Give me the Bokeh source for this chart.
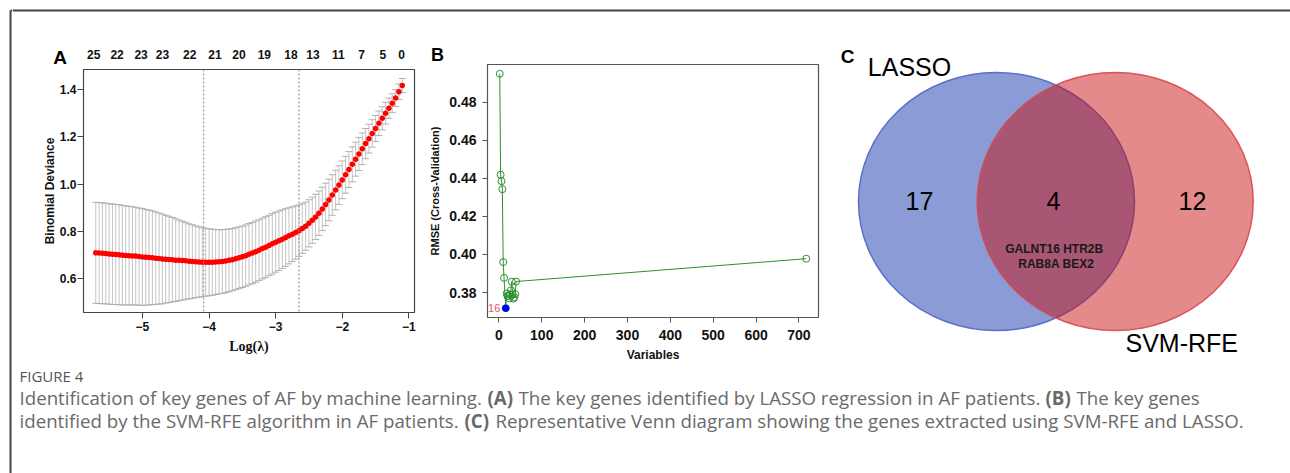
from bokeh.plotting import figure
from bokeh.layouts import row, column
from bokeh.models import Range1d, FixedTicker, Span, Label, NumeralTickFormatter
from bokeh.core.properties import value
from bokeh.embed import file_html
from bokeh.resources import INLINE

# ---------------- data ----------------
# Panel A: LASSO cross-validation
log_lambda = [-5.70, -5.65, -5.60, -5.55, -5.50, -5.45, -5.40, -5.35, -5.30, -5.25,
              -5.20, -5.15, -5.10, -5.05, -5.00, -4.95, -4.90, -4.85, -4.80, -4.75,
              -4.70, -4.65, -4.60, -4.55, -4.50, -4.45, -4.40, -4.35, -4.30, -4.25,
              -4.20, -4.15, -4.10, -4.05, -4.00, -3.95, -3.90, -3.85, -3.80, -3.75,
              -3.70, -3.65, -3.60, -3.55, -3.50, -3.45, -3.40, -3.35, -3.30, -3.25,
              -3.20, -3.15, -3.10, -3.05, -3.00, -2.95, -2.90, -2.85, -2.80, -2.75,
              -2.70, -2.65, -2.60, -2.55, -2.50, -2.45, -2.40, -2.35, -2.30, -2.25,
              -2.20, -2.15, -2.10, -2.05, -2.00, -1.95, -1.90, -1.85, -1.80, -1.75,
              -1.70, -1.65, -1.60, -1.55, -1.50, -1.45, -1.40, -1.35, -1.30, -1.25,
              -1.20, -1.15, -1.10]
cv_mean = [0.709, 0.708, 0.707, 0.706, 0.704, 0.703, 0.702, 0.701, 0.699, 0.698,
           0.697, 0.696, 0.695, 0.693, 0.691, 0.690, 0.689, 0.688, 0.686, 0.685,
           0.683, 0.682, 0.681, 0.680, 0.678, 0.677, 0.676, 0.675, 0.673, 0.672,
           0.671, 0.670, 0.669, 0.669, 0.669, 0.669, 0.670, 0.671, 0.672, 0.674,
           0.677, 0.680, 0.684, 0.688, 0.692, 0.697, 0.703, 0.708, 0.714, 0.720,
           0.727, 0.733, 0.740, 0.747, 0.754, 0.760, 0.767, 0.774, 0.781, 0.788,
           0.795, 0.803, 0.812, 0.822, 0.834, 0.847, 0.861, 0.877, 0.895, 0.914,
           0.933, 0.954, 0.975, 0.996, 1.018, 1.040, 1.062, 1.084, 1.106, 1.128,
           1.150, 1.172, 1.193, 1.215, 1.236, 1.258, 1.279, 1.301, 1.322, 1.343,
           1.365, 1.392, 1.418]
cv_sd = [0.214, 0.214, 0.214, 0.213, 0.213, 0.213, 0.212, 0.212, 0.211, 0.210,
         0.209, 0.208, 0.207, 0.206, 0.205, 0.203, 0.201, 0.199, 0.196, 0.193,
         0.190, 0.186, 0.183, 0.179, 0.175, 0.171, 0.167, 0.163, 0.159, 0.156,
         0.152, 0.149, 0.146, 0.144, 0.142, 0.140, 0.138, 0.136, 0.135, 0.134,
         0.133, 0.132, 0.131, 0.131, 0.130, 0.130, 0.130, 0.130, 0.130, 0.129,
         0.129, 0.129, 0.128, 0.128, 0.127, 0.126, 0.124, 0.122, 0.119, 0.116,
         0.113, 0.109, 0.105, 0.102, 0.100, 0.098, 0.096, 0.094, 0.092, 0.090,
         0.088, 0.086, 0.084, 0.082, 0.080, 0.078, 0.076, 0.074, 0.072, 0.070,
         0.067, 0.064, 0.061, 0.058, 0.055, 0.052, 0.049, 0.046, 0.043, 0.040,
         0.036, 0.033, 0.030]
lambda_min = -4.08
lambda_1se = -2.65
top_tick_pos = [-5.73, -5.38, -5.02, -4.70, -4.29, -3.91, -3.55, -3.17, -2.77, -2.44, -2.06, -1.71, -1.39, -1.11]
nonzero_counts = [25, 22, 23, 23, 22, 21, 20, 19, 18, 13, 11, 7, 5, 0]
a_xticks = [-5, -4, -3, -2, -1]
a_yticks = [0.6, 0.8, 1.0, 1.2, 1.4]

# Panel B: SVM-RFE
rfe_vars = [2, 4, 6, 8, 10, 12, 16, 18, 20, 22, 24, 26, 28, 30, 32, 34, 36, 38, 40, 717]
rfe_rmse = [0.4949, 0.4419, 0.4385, 0.4343, 0.3960, 0.3877, 0.3718, 0.3795, 0.3782, 0.3783,
            0.3770, 0.3790, 0.3812, 0.3857, 0.3790, 0.3768, 0.3775, 0.3792, 0.3858, 0.3978]
best_vars = 16
b_xticks = [0, 100, 200, 300, 400, 500, 600, 700]
b_yticks = [0.38, 0.40, 0.42, 0.44, 0.46, 0.48]

# Panel C: Venn
venn_sets = ["LASSO", "SVM-RFE"]
venn_counts = [17, 4, 12]
shared_genes = ["GALNT16", "HTR2B", "RAB8A", "BEX2"]

caption_title = "FIGURE 4"
caption_line1 = ["Identification of key genes of AF by machine learning.", "(A)",
                 "The key genes identified by LASSO regression in AF patients.", "(B)", "The key genes"]
caption_line2 = ["identified by the SVM-RFE algorithm in AF patients.", "(C)",
                 "Representative Venn diagram showing the genes extracted using SVM-RFE and LASSO."]

ARIAL = "Liberation Sans"
CAPF = "Open Sans"

MID_BOTTOM = 366  # page y where the caption block starts
# A frame geometry (page pixels) used to build the strip's matching scale
A_X0, A_X1 = -5.884, -0.916
A_LEFT, A_RIGHT, A_CANVAS_L, A_CANVAS_R = 83, 414, 12, 425


def blank(w, h, xr, yr, **kw):
    f = figure(width=w, height=h, x_range=Range1d(*xr), y_range=Range1d(*yr),
               output_backend="svg", toolbar_location=None,
               x_axis_location=None, y_axis_location=None, min_border=0, **kw)
    f.grid.visible = False
    f.outline_line_color = None
    f.background_fill_color = "white"
    f.border_fill_color = "white"
    return f


# ---------------- frame strips ----------------
left_strip = blank(12, 473, (0, 12), (473, 0))
left_strip.segment(x0=[10, 10], y0=[10, 10], x1=[10, 12], y1=[473, 10], line_color="#444444", line_width=2)
top_strip = blank(1278, 12, (12, 1290), (12, 0))
top_strip.segment(x0=[12], y0=[10], x1=[1290], y1=[10], line_color="#444444", line_width=2)

# ---------------- strip above A (letter + lasso top axis) ----------------
upp = (A_X1 - A_X0) / (A_RIGHT - A_LEFT)
lam_range = Range1d(A_X0 - (A_LEFT - A_CANVAS_L) * upp, A_X1 + (A_CANVAS_R - A_RIGHT) * upp)
strip_a = blank(413, 57, (12, 425), (69, 12), extra_x_ranges={"lam": lam_range})
strip_a.text(x=top_tick_pos, y=[53.5] * len(top_tick_pos), text=[str(n) for n in nonzero_counts],
             x_range_name="lam", text_font=value(ARIAL), text_font_style="bold", text_font_size="12px",
             text_align="center", text_baseline="middle", text_color="#111111")
strip_a.text(x=[59.7], y=[56.5], text=["A"], text_font=value(ARIAL), text_font_style="bold",
             text_font_size="19px", text_align="center", text_baseline="middle", text_color="#000000")

# ---------------- panel A ----------------
pa = figure(width=413, height=MID_BOTTOM - 69, x_range=Range1d(A_X0, A_X1), y_range=Range1d(0.456, 1.486),
            output_backend="svg", toolbar_location=None,
            min_border_left=A_LEFT - A_CANVAS_L, min_border_right=A_CANVAS_R - A_RIGHT,
            min_border_top=0, min_border_bottom=MID_BOTTOM - 312)
pa.grid.visible = False
pa.outline_line_color = "#444444"
pa.outline_line_width = 1.2
upper = [m + s for m, s in zip(cv_mean, cv_sd)]
lower = [m - s for m, s in zip(cv_mean, cv_sd)]
pa.segment(x0=log_lambda, y0=lower, x1=log_lambda, y1=upper, line_color="#C4C4C4", line_width=1)
pa.scatter(log_lambda, upper, marker="dash", size=7, line_color="#B0B0B0", line_width=1)
pa.scatter(log_lambda, lower, marker="dash", size=7, line_color="#B0B0B0", line_width=1)
pa.add_layout(Span(location=lambda_min, dimension="height", line_color="#888888", line_dash="2 2", line_width=1))
pa.add_layout(Span(location=lambda_1se, dimension="height", line_color="#888888", line_dash="2 2", line_width=1))
pa.scatter(log_lambda, cv_mean, size=5.5, fill_color="#FF0000", line_color=None)

for ax in [pa.xaxis[0], pa.yaxis[0]]:
    ax.axis_line_color = None
    ax.major_tick_in = 0
    ax.major_tick_out = 6
    ax.minor_tick_line_color = None
    ax.major_tick_line_color = "#444444"
    ax.major_label_text_font = ARIAL
    ax.major_label_text_font_style = "bold"
    ax.major_label_text_font_size = "12px"
    ax.major_label_text_color = "#111111"
    ax.axis_label_text_color = "#111111"
pa.xaxis.ticker = FixedTicker(ticks=a_xticks)
pa.yaxis.ticker = FixedTicker(ticks=a_yticks)
pa.yaxis.formatter = NumeralTickFormatter(format="0.0")
pa.xaxis.major_label_standoff = 3
pa.yaxis.major_label_standoff = 1
pa.yaxis.axis_label = "Binomial Deviance"
pa.yaxis.axis_label_text_font = ARIAL
pa.yaxis.axis_label_text_font_style = "bold"
pa.yaxis.axis_label_text_font_size = "12px"
pa.yaxis.axis_label_standoff = 0
pa.xaxis.axis_label = "Log(λ)"
pa.xaxis.axis_label_text_font = "Liberation Serif"
pa.xaxis.axis_label_text_font_style = "bold"
pa.xaxis.axis_label_text_font_size = "14px"
pa.xaxis.axis_label_standoff = 5

# the plot is wrapped in a row so the strip above keeps its own full-width frame
col_a = column(strip_a, row(pa))

# ---------------- strip above B ----------------
strip_b = blank(405, 52, (425, 830), (64, 12))
strip_b.text(x=[437], y=[54.3], text=["B"], text_font=value(ARIAL), text_font_style="bold",
             text_font_size="18px", text_align="center", text_baseline="middle", text_color="#000000")

# ---------------- panel B ----------------
pb = figure(width=405, height=MID_BOTTOM - 64, x_range=Range1d(-26.6, 745.6), y_range=Range1d(0.3669, 0.4998),
            output_backend="svg", toolbar_location=None,
            min_border_left=62, min_border_right=12, min_border_top=0, min_border_bottom=MID_BOTTOM - 317)
pb.grid.visible = False
pb.outline_line_color = "#555555"
pb.outline_line_width = 1.2
green = "#2F8F2F"
pb.line(rfe_vars, rfe_rmse, line_color=green, line_width=1)
pb.scatter(rfe_vars, rfe_rmse, size=7, fill_color=None, line_color=green, line_width=1)
best_idx = rfe_vars.index(best_vars)
pb.scatter([rfe_vars[best_idx]], [rfe_rmse[best_idx]], size=6.5, fill_color="#0000FF", line_color="#0000FF")
pb.add_layout(Label(x=rfe_vars[best_idx], y=rfe_rmse[best_idx], x_offset=-5.5, text=str(best_vars),
                    text_font=ARIAL, text_font_size="11px", text_color="#DF536B",
                    text_align="right", text_baseline="middle"))
for ax in [pb.xaxis[0], pb.yaxis[0]]:
    ax.axis_line_color = None
    ax.major_tick_in = 0
    ax.major_tick_out = 5
    ax.minor_tick_line_color = None
    ax.major_tick_line_color = "#555555"
    ax.major_label_text_font = ARIAL
    ax.major_label_text_font_style = "bold"
    ax.major_label_text_font_size = "14px"
    ax.major_label_text_color = "#111111"
    ax.axis_label_text_font = ARIAL
    ax.axis_label_text_font_style = "bold"
    ax.axis_label_text_color = "#111111"
pb.xaxis.ticker = FixedTicker(ticks=b_xticks)
pb.yaxis.ticker = FixedTicker(ticks=b_yticks)
pb.yaxis.formatter = NumeralTickFormatter(format="0.00")
pb.xaxis.major_label_standoff = 7
pb.yaxis.major_label_standoff = 6
pb.yaxis.axis_label = "RMSE (Cross-Validation)"
pb.yaxis.axis_label_text_font_size = "11px"
pb.yaxis.axis_label_standoff = 5
pb.xaxis.axis_label = "Variables"
pb.xaxis.axis_label_text_font_size = "12px"
pb.xaxis.axis_label_standoff = 5

col_b = column(strip_b, row(pb))

# ---------------- panel C ----------------
pc = blank(460, MID_BOTTOM - 12, (830, 1290), (MID_BOTTOM, 12))
pc.ellipse(x=[996], y=[201], width=[276], height=[258], fill_color="#8A9BD5", fill_alpha=1.0,
           line_color="#5A70CC", line_width=1.5)
pc.ellipse(x=[1114.7], y=[201], width=[276], height=[258], fill_color="#C90B0B", fill_alpha=0.48,
           line_color="#D9474F", line_width=1.5, line_alpha=0.9)
pc.text(x=[909, 1125], y=[66, 342], text=venn_sets, text_font=value(ARIAL), text_font_size="25px",
        text_align=["center", "left"], text_baseline="middle", text_color="#000000")
pc.text(x=[919, 1053, 1192], y=[200, 200, 200], text=[str(c) for c in venn_counts], text_font=value(ARIAL),
        text_font_size="25px", text_align="center", text_baseline="middle", text_color="#000000")
gene_lines = [" ".join(shared_genes[:2]), " ".join(shared_genes[2:])]
pc.text(x=[1053.7, 1055.8], y=[248.3, 263.3], text=gene_lines, text_font=value(ARIAL), text_font_style="bold",
        text_font_size="12px", text_align="center", text_baseline="middle", text_color="#1A1A1A")
pc.text(x=[847], y=[55.7], text=["C"], text_font=value(ARIAL), text_font_style="bold", text_font_size="19px",
        text_align="center", text_baseline="middle", text_color="#000000")

# ---------------- caption ----------------
cap = blank(1278, 473 - MID_BOTTOM, (12, 1290), (473, MID_BOTTOM))
CAPC = "#6A6A6A"
CAPS = "18.7px"
cap.text(x=[19], y=[375.5], text=[caption_title], text_font=value(CAPF), text_font_size="15px",
         text_baseline="middle", text_color="#555555")
cap.text(x=[19, 518, 1076], y=[397] * 3, text=[caption_line1[0], caption_line1[2], caption_line1[4]],
         text_font=value(CAPF), text_font_size=CAPS, text_baseline="middle", text_color=CAPC)
cap.text(x=[487, 1045], y=[397] * 2, text=[caption_line1[1], caption_line1[3]], text_font=value(CAPF),
         text_font_size=CAPS, text_font_style="bold", text_baseline="middle", text_color=CAPC)
cap.text(x=[19, 495], y=[420] * 2, text=[caption_line2[0], caption_line2[2]], text_font=value(CAPF),
         text_font_size=CAPS, text_baseline="middle", text_color=CAPC)
cap.text(x=[464], y=[420], text=[caption_line2[1]], text_font=value(CAPF), text_font_size=CAPS,
         text_font_style="bold", text_baseline="middle", text_color=CAPC)

layout = row(left_strip, column(top_strip, row(col_a, col_b, pc), cap))
open("out.html", "w").write(file_html(layout, INLINE))
